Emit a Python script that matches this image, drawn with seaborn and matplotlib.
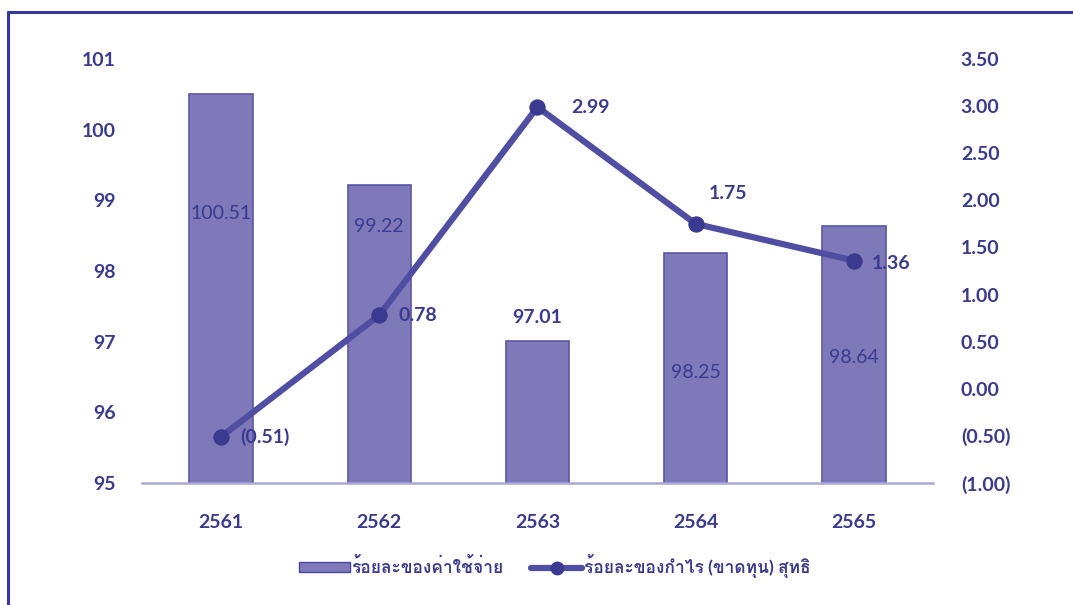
import numpy as np
import matplotlib
matplotlib.use('Agg')
import matplotlib.pyplot as plt
import seaborn as sns
from matplotlib import font_manager
from matplotlib.ft2font import FT2Font
from matplotlib.lines import Line2D
from matplotlib.patches import Patch
from matplotlib.ticker import FuncFormatter, MultipleLocator

# Data
years = ['2561', '2562', '2563', '2564', '2565']
expense_pct = [100.51, 99.22, 97.01, 98.25, 98.64]
profit_pct = [-0.51, 0.78, 2.99, 1.75, 1.36]
bar_label = 'ร้อยละของค่าใช้จ่าย'
line_label = 'ร้อยละของกำไร (ขาดทุน) สุทธิ'

# find an installed font that has Thai glyphs
thai_font = None
for f in font_manager.fontManager.ttflist:
    try:
        if 0x0E23 in FT2Font(f.fname).get_charmap():
            thai_font = f.name
            break
    except Exception:
        pass
families = ['Lato'] + ([thai_font] if thai_font else []) + ['DejaVu Sans']

sns.set_theme(style='white')
plt.rcParams['font.family'] = families

txt = '#3a3a8e'
bar_col = '#7f79ba'
line_col = '#4f4ea3'

fig = plt.figure(figsize=(10.73, 6.05), dpi=100)
ax = fig.add_axes([0.1323, 0.2017, 0.7372, 0.7008])

sns.barplot(x=years, y=expense_pct, ax=ax, color=bar_col, width=0.4,
            edgecolor='#5a56a8', linewidth=1.2, saturation=1)
ax.set_ylim(95, 101)
ax.set_xlim(-0.5, 4.5)
ax.yaxis.set_major_locator(MultipleLocator(1))

ax2 = ax.twinx()
xpos = np.arange(len(years))
sns.lineplot(x=xpos, y=profit_pct, ax=ax2, color=line_col, linewidth=4.5,
             marker='o', markersize=11, markerfacecolor='#3a3a90',
             markeredgecolor='#3a3a90')
ax2.set_ylim(-1.0, 3.5)
ax2.yaxis.set_major_locator(MultipleLocator(0.5))
ax2.yaxis.set_major_formatter(FuncFormatter(
    lambda v, p: f'({abs(v):.2f})' if v < 0 else f'{v:.2f}'))

for a in (ax, ax2):
    for s in a.spines.values():
        s.set_visible(False)
    a.set_xlabel('')
    a.set_ylabel('')
    a.grid(False)
ax.spines['bottom'].set_visible(True)
ax.spines['bottom'].set_color('#aaa7d8')
ax.spines['bottom'].set_linewidth(1.8)

ax.tick_params(axis='x', length=0, pad=22, labelsize=14, labelcolor=txt)
ax.tick_params(axis='y', length=0, pad=19, labelsize=14, labelcolor=txt)
ax2.tick_params(axis='y', length=0, pad=20, labelsize=14, labelcolor=txt)
for lab in ax.get_xticklabels() + ax.get_yticklabels() + ax2.get_yticklabels():
    lab.set_fontweight('bold')

# bar value labels (offsets in points relative to the bar top)
bar_offsets = [-86, -30, 17, -86, -95]
for i, v in enumerate(expense_pct):
    ax.annotate(f'{v:.2f}', (i, v), xytext=(0, bar_offsets[i]),
                textcoords='offset points', ha='center', va='center',
                fontsize=14, color=txt,
                fontweight='bold' if bar_offsets[i] > 0 else 'normal')

# line value labels
line_offsets = [(14, 0), (14, 0), (24, 0), (23, 22), (13, -2)]
for i, v in enumerate(profit_pct):
    s = f'({abs(v):.2f})' if v < 0 else f'{v:.2f}'
    dx, dy = line_offsets[i]
    ax2.annotate(s, (i, v), xytext=(dx, dy), textcoords='offset points',
                 ha='left' if i != 3 else 'center', va='center',
                 fontsize=14, color=txt, fontweight='bold')

# legend
handles = [Patch(facecolor=bar_col, edgecolor='#4a47a0'),
           Line2D([0], [0], color=line_col, lw=4.5, marker='o', markersize=9,
                  markerfacecolor='#3a3a90', markeredgecolor='#3a3a90')]
leg = fig.legend(handles, [bar_label, line_label], loc='center',
                 bbox_to_anchor=(0.517, 0.064), ncol=2, frameon=False,
                 prop={'size': 12.5, 'weight': 'bold'}, handlelength=2.9,
                 handleheight=0.5, handletextpad=0.1, columnspacing=1.6)
for t in leg.get_texts():
    t.set_color(txt)

# outer frame
fig.add_artist(Line2D([0.007, 1.0], [0.980, 0.980], color='#3737a0', lw=2.2))
fig.add_artist(Line2D([0.007, 0.007], [0.0, 0.980], color='#3737a0', lw=2.2))

fig.savefig('out.png', dpi=100)
